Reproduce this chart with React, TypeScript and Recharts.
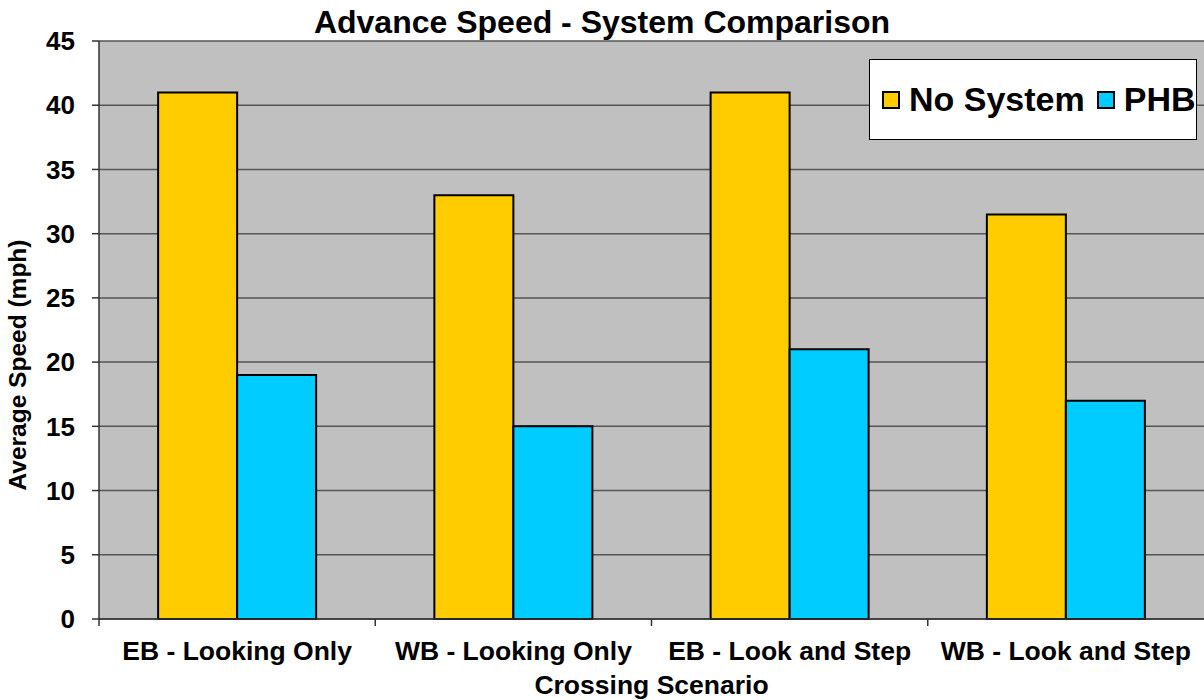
import { BarChart, Bar, XAxis, YAxis, CartesianGrid, Legend } from "recharts";

const categories = ["EB - Looking Only", "WB - Looking Only", "EB - Look and Step", "WB - Look and Step"];
const noSystem = [41, 33, 41, 31.5];
const phb = [19, 15, 21, 17];
const yTicks = [0, 5, 10, 15, 20, 25, 30, 35, 40, 45];

const data = categories.map((c, i) => ({ name: c, noSystem: noSystem[i], phb: phb[i] }));

const FONT = "'Liberation Sans', Arial, sans-serif";
const BAND = 1105 / 4;

function XTick(props: any) {
  const { x, y, payload } = props;
  const bx = x - BAND / 2;
  return (
    <g>
      <line x1={bx} y1={y} x2={bx} y2={y + 7} stroke="#333" strokeWidth={1.5} />
      <text x={x} y={y + 41} textAnchor="middle" fontFamily={FONT} fontWeight="bold" fontSize={26.5} fill="#000">
        {payload.value}
      </text>
    </g>
  );
}

function LegendBox() {
  const item = (color: string, label: string) => (
    <div style={{ display: "flex", alignItems: "center" }}>
      <div style={{ width: 14, height: 14, background: color, border: "2px solid #000", marginRight: 9 }} />
      <span>{label}</span>
    </div>
  );
  return (
    <div
      style={{
        width: 328,
        height: 81,
        background: "#fff",
        border: "1px solid #000",
        display: "flex",
        alignItems: "center",
        gap: 12,
        paddingLeft: 12,
        boxSizing: "border-box",
        fontFamily: FONT,
        fontWeight: "bold",
        fontSize: 34,
        color: "#000",
        whiteSpace: "nowrap",
      }}
    >
      {item("#FFCC00", "No System")}
      {item("#00CCFF", "PHB")}
    </div>
  );
}

export default function App() {
  return (
    <div style={{ position: "relative", width: 1204, height: 700, background: "#fff", overflow: "hidden" }}>
      <style>{"body{margin:0}"}</style>
      <div
        style={{
          position: "absolute",
          top: 4,
          left: 0,
          width: 1204,
          textAlign: "center",
          fontFamily: FONT,
          fontWeight: "bold",
          fontSize: 32,
          lineHeight: "36px",
        }}
      >
        Advance Speed - System Comparison
      </div>
      <BarChart
        width={1204}
        height={700}
        data={data}
        margin={{ top: 41, right: 0, bottom: 0, left: 0 }}
        barCategoryGap="21.4%"
        barGap={0}
      >
        <CartesianGrid vertical={false} fill="#C0C0C0" stroke="#555" strokeWidth={1.5} />
        <XAxis
          dataKey="name"
          height={81}
          axisLine={{ stroke: "#333", strokeWidth: 1.5 }}
          tickLine={false}
          tickSize={0}
          tickMargin={0}
          tick={<XTick />}
          interval={0}
        />
        <YAxis
          width={99}
          domain={[0, 45]}
          ticks={yTicks}
          axisLine={{ stroke: "#333", strokeWidth: 1.5 }}
          tickLine={{ stroke: "#333", strokeWidth: 1.5 }}
          tickSize={7}
          tickMargin={17}
          tick={{ fill: "#000", fontFamily: FONT, fontWeight: "bold", fontSize: 26 }}
        />
        <Legend
          layout="horizontal"
          verticalAlign="middle"
          content={() => <LegendBox />}
          wrapperStyle={{ top: 59, left: 869, width: 328 }}
        />
        <Bar dataKey="noSystem" name="No System" fill="#FFCC00" stroke="#000" strokeWidth={2} isAnimationActive={false} />
        <Bar dataKey="phb" name="PHB" fill="#00CCFF" stroke="#000" strokeWidth={2} isAnimationActive={false} />
      </BarChart>
      <div
        style={{
          position: "absolute",
          top: 670,
          left: 0,
          width: 1204,
          textAlign: "center",
          paddingLeft: 99,
          boxSizing: "border-box",
          fontFamily: FONT,
          fontWeight: "bold",
          fontSize: 26.5,
          lineHeight: "30px",
        }}
      >
        Crossing Scenario
      </div>
      <div
        style={{
          position: "absolute",
          left: 18,
          top: 365,
          transform: "translate(-50%, -50%) rotate(-90deg)",
          whiteSpace: "nowrap",
          fontFamily: FONT,
          fontWeight: "bold",
          fontSize: 24.5,
          lineHeight: "28px",
        }}
      >
        Average Speed (mph)
      </div>
    </div>
  );
}
